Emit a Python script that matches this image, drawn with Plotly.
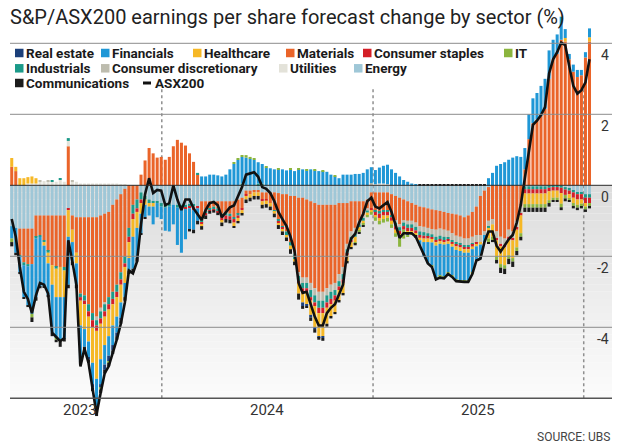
import plotly.graph_objects as go
import pandas as pd

# ---------------- data (weekly, % change in EPS forecast, contribution by sector) ----------------
dates = pd.date_range("2023-04-16", periods=144, freq="7D")

real_estate = [
    0, 0, 0, 0, 0, 0, 0, 0, 0, 0,
    0, 0, 0, 0, 0, 0, 0, 0, 0, -0.05,
    -0.1, -0.1, -0.1, -0.15, -0.15, -0.15, -0.1, -0.05, 0, 0,
    0, 0, 0, 0, 0, 0, 0, 0, 0, 0,
    0, 0, 0, 0, 0, 0, 0, 0, 0, 0,
    0, 0, 0, 0, 0, 0, 0, 0, 0, 0,
    0, 0, 0, 0, 0, 0, 0, 0, 0, 0,
    0, 0, -0.1, -0.05, -0.07, -0.05, -0.05, -0.05, 0, 0,
    0, 0, 0, 0, 0, 0, 0, 0, 0, 0,
    0, 0, 0, 0, 0, 0, 0, 0, -0.05, 0,
    0, 0, 0, 0, 0, 0, 0, 0, 0, 0,
    0, 0, 0, 0, 0, 0, 0, 0, 0, 0,
    0, 0, 0, 0, 0, 0, 0, 0, 0, 0,
    0, 0, 0, 0, 0, 0, 0, 0, 0, 0,
    0, 0, 0, 0]

financials = [
    -0.35, -0.7, -0.45, -0.9, -1.1, -1.4, -1.65, -1.4, -1.15, -0.9,
    -1.35, -1.15, -1.2, -1.15, -1.35, -0.55, -0.6, -1.0, -0.5, -0.45,
    -0.6, -0.8, -0.7, -0.55, -0.55, -0.55, -0.45, -0.45, -0.4, -0.35,
    -0.9, -0.85, -0.55, -0.35, -0.25, -0.5, -0.4, -0.35, -0.65, -0.7,
    -0.55, -1.05, -1.25, -0.85, -0.6, -0.55, -0.35, 0.25, 0.25, 0.3,
    0.3, 0.28, 0.25, 0.3, 0.45, 0.6, 0.72, 0.75, 0.78, 0.75,
    0.72, 0.6, 0.55, 0.5, 0.48, 0.45, 0.45, 0.45, 0.42, 0.45,
    0.4, 0.45, 0.45, 0.42, 0.45, 0.42, 0.4, 0.4, 0.38, 0.3,
    0.25, 0.2, 0.3, 0.3, 0.3, 0.32, 0.32, 0.35, 0.45, 0.45,
    0.4, 0.45, 0.5, 0.55, 0.45, 0.35, 0.25, 0.15, 0.1, 0.05,
    0.03, -0.15, -0.4, -0.6, -0.65, -0.9, -0.9, -0.9, -0.8, -0.8,
    -0.83, -0.82, -0.77, -0.77, -0.65, -0.4, -0.4, -0.2, 0.2, 0.35,
    0.55, 0.6, 0.65, 0.72, 0.78, 0.82, 0.8, 0.6, 0.7, 0.7,
    0.75, 0.85, 0.85, 0.8, 0.55, 0.55, 0.65, 0.25, 0.15, 0.2,
    0.2, 0.15, 0.15, 0.25]

healthcare = [
    0.25, 0.12, 0.2, 0.2, 0.18, 0.2, 0.15, 0, -0.1, -0.3,
    -0.55, -0.8, -0.85, -0.75, -0.75, -0.35, -0.3, -0.7, -0.7, -0.7,
    -1.0, -1.35, -1.0, -0.8, -0.75, -0.6, -0.55, -0.5, -0.45, -0.45,
    -0.5, -0.45, -0.3, -0.15, -0.1, -0.1, 0, 0, 0, 0,
    0, 0, 0, 0, 0, 0, 0, -0.05, 0, 0,
    0, 0, -0.05, 0, 0, -0.1, -0.1, -0.1, -0.1, -0.1,
    -0.1, -0.1, -0.1, -0.1, -0.1, -0.05, -0.05, -0.05, -0.07, -0.1,
    -0.05, -0.3, -0.3, -0.35, -0.4, -0.6, -0.65, -0.65, -0.45, -0.35,
    -0.33, -0.3, -0.3, -0.18, -0.15, -0.15, -0.1, -0.08, -0.08, -0.05,
    -0.05, -0.08, -0.1, -0.07, -0.1, -0.1, -0.1, 0, -0.05, -0.05,
    -0.05, -0.07, -0.1, -0.1, -0.1, -0.1, -0.08, -0.07, -0.07, -0.08,
    -0.1, -0.1, -0.1, -0.1, -0.07, -0.05, -0.05, 0, -0.3, -0.35,
    -0.45, -0.5, -0.5, -0.45, -0.5, -0.5, -0.5, -0.3, -0.3, -0.3,
    -0.3, -0.3, -0.3, -0.25, -0.2, -0.2, -0.3, 0.1, -0.12, -0.15,
    -0.15, -0.12, -0.1, 0.12]

materials = [
    0.52, 0.4, -0.75, -0.95, -1.0, -1.0, -0.6, -0.55, -0.7, -1.0,
    -1.4, -1.45, -1.45, -1.45, 1.1, -0.4, -1.0, -2.15, -2.2, -2.45,
    -2.7, -2.8, -2.6, -2.5, -2.4, -2.45, -2.4, -2.2, -1.9, -1.2,
    -0.55, -0.4, 0.3, 0.7, 1.05, 0.9, 0.78, 0.8, 0.72, 0.8,
    1.1, 1.28, 1.2, 1.12, 0.9, 0.66, 0.3, -0.55, -0.3, -0.2,
    -0.15, -0.2, -0.35, -0.3, -0.35, -0.45, -0.4, -0.3, -0.1, -0.1,
    -0.05, -0.05, -0.2, -0.2, -0.3, -0.5, -0.75, -0.9, -1.05, -1.3,
    -1.6, -2.1, -2.25, -2.2, -2.3, -2.4, -2.45, -2.45, -2.35, -2.25,
    -2.2, -2.0, -1.8, -1.15, -0.85, -0.75, -0.55, -0.4, -0.25, -0.45,
    -0.5, -0.55, -0.5, -0.5, -0.6, -0.7, -0.75, -0.6, -0.55, -0.5,
    -0.5, -0.55, -0.55, -0.55, -0.55, -0.55, -0.5, -0.5, -0.5, -0.55,
    -0.6, -0.6, -0.6, -0.65, -0.7, -0.8, -1.1, -1.15, -0.95, -0.95,
    -1.3, -1.45, -1.5, -1.25, -1.3, -1.0, -0.6, 0.45, 1.3, 1.75,
    1.85, 1.95, 2.15, 3.0, 3.55, 3.7, 4.1, 4.05, 3.55, 3.2,
    3.05, 3.1, 3.6, 4.05]

consumer_staples = [
    0, 0, 0, 0, 0, 0, 0, 0, 0, 0,
    0, 0, 0, 0, -0.05, 0, 0, -0.1, -0.1, -0.15,
    -0.2, -0.15, -0.15, -0.15, -0.15, -0.15, -0.15, -0.15, -0.1, -0.15,
    -0.15, -0.1, -0.1, 0, 0, 0, 0, 0, 0, 0,
    0, 0, 0, -0.05, -0.05, -0.1, -0.05, -0.05, -0.05, -0.02,
    -0.02, -0.02, -0.1, -0.1, -0.1, -0.1, -0.07, -0.05, -0.05, 0,
    0, 0, -0.05, -0.03, 0, 0, -0.05, -0.05, 0, 0,
    0, -0.05, -0.1, -0.1, -0.1, -0.1, -0.15, -0.15, -0.15, -0.15,
    -0.15, -0.1, -0.1, -0.05, -0.05, 0, 0, 0, 0, -0.05,
    -0.1, -0.12, -0.1, -0.1, -0.1, -0.1, -0.1, -0.1, -0.1, -0.1,
    -0.08, -0.08, -0.08, -0.05, -0.05, -0.05, -0.05, -0.05, -0.05, -0.05,
    -0.05, -0.05, -0.05, -0.05, -0.05, -0.05, -0.02, 0, 0, 0,
    -0.05, -0.07, -0.05, -0.07, -0.05, -0.05, -0.05, -0.12, -0.12, -0.12,
    -0.12, -0.12, -0.12, -0.1, -0.1, -0.1, -0.15, -0.15, -0.1, -0.15,
    -0.15, -0.15, -0.15, -0.15]

it = [
    -0.1, 0, 0, 0, 0, -0.1, 0, 0, 0, 0,
    0, -0.05, -0.05, 0, 0, 0, 0, 0, 0, 0,
    0, 0, -0.05, 0, -0.05, 0, 0, 0, 0, 0,
    0, 0, 0, 0, 0, 0, 0, 0, 0, 0,
    0, 0, 0, 0, 0, 0, 0, 0, 0, 0,
    0, 0, 0, 0, 0, 0.03, 0.05, 0.05, 0.07, 0.05,
    0.05, 0, 0, 0.03, 0, 0, 0.03, 0, 0, 0.03,
    0, 0.02, 0, 0.03, 0, 0.03, 0, 0.03, 0, 0,
    0.03, 0, 0, 0, 0, -0.04, -0.05, -0.05, -0.05, -0.08,
    -0.1, -0.1, -0.1, -0.1, -0.1, -0.1, -0.25, -0.25, -0.05, -0.05,
    0, 0, 0, 0, -0.04, -0.05, -0.05, -0.05, -0.05, -0.05,
    -0.05, -0.05, -0.05, -0.05, -0.05, 0, 0, 0, -0.1, -0.1,
    -0.1, -0.1, -0.1, -0.1, -0.1, -0.1, -0.1, -0.1, -0.1, -0.1,
    -0.1, -0.1, -0.1, -0.08, -0.07, -0.07, -0.1, -0.1, -0.05, -0.08,
    -0.08, -0.08, -0.08, -0.08]

industrials = [
    0, 0, -0.03, -0.08, -0.06, 0, -0.05, -0.05, -0.05, -0.05,
    0.03, -0.05, 0.05, -0.1, 0.08, 0, 0, -0.1, -0.15, -0.2,
    -0.2, -0.15, -0.2, -0.2, -0.2, -0.2, -0.2, -0.2, -0.2, -0.25,
    -0.25, -0.25, -0.2, -0.1, -0.1, -0.05, -0.05, -0.1, -0.08, -0.05,
    0, -0.08, -0.1, -0.07, -0.05, -0.05, 0.05, -0.05, -0.05, -0.05,
    -0.08, -0.1, -0.1, -0.1, -0.07, -0.05, -0.05, 0.05, 0, 0,
    0, 0.05, 0.05, 0, 0, -0.05, -0.05, -0.05, -0.1, -0.1,
    -0.15, -0.15, -0.15, -0.15, -0.2, -0.2, -0.2, -0.2, -0.2, -0.2,
    -0.15, -0.15, -0.15, -0.12, -0.1, -0.1, -0.08, -0.08, -0.06, 0,
    -0.05, -0.05, -0.05, -0.05, -0.05, -0.1, -0.1, -0.1, -0.1, -0.1,
    -0.1, -0.1, -0.1, -0.1, -0.08, -0.1, -0.1, -0.1, -0.05, -0.05,
    -0.05, -0.05, -0.05, -0.05, -0.03, -0.02, 0, 0, -0.05, 0,
    0, 0, 0, 0, 0, 0, 0, -0.08, -0.08, -0.08,
    -0.08, -0.08, -0.08, -0.07, -0.05, -0.05, -0.07, -0.07, -0.05, -0.05,
    -0.05, -0.05, -0.1, -0.1]

consumer_discretionary = [
    0, 0, 0, 0, 0, 0, 0, 0.05, 0, 0.03,
    0, 0, 0, 0, 0, 0.05, 0, 0, 0, 0,
    0, -0.1, -0.1, -0.05, 0, 0, 0, 0, 0, 0,
    0, 0, 0, 0, 0, 0, 0, 0, 0, 0,
    0, 0, 0, 0, 0, 0, 0, 0, 0, 0,
    0, 0, 0, 0, 0, 0, 0, 0, 0, 0,
    0, 0, 0, 0, 0, 0, 0, 0, 0, 0,
    -0.05, -0.1, -0.15, -0.15, -0.2, -0.2, -0.25, -0.25, -0.2, -0.2,
    -0.2, -0.2, -0.2, -0.15, -0.15, -0.15, -0.1, -0.07, -0.06, 0.03,
    0, 0, 0, 0, 0, -0.05, -0.08, -0.05, -0.1, -0.1,
    -0.12, -0.15, -0.15, -0.15, -0.15, -0.2, -0.2, -0.2, -0.2, -0.2,
    -0.2, -0.2, -0.2, -0.2, -0.2, -0.2, -0.2, -0.1, -0.15, -0.15,
    -0.2, -0.2, -0.2, -0.2, -0.2, -0.2, -0.2, 0, 0, 0,
    0, 0, 0, 0, 0, 0, 0, 0, 0, 0,
    0, 0, 0, 0]

utilities = [
    0, 0, 0, 0, 0.05, 0.05, 0.05, 0.1, 0.12, 0.12,
    0.1, 0.1, 0.15, 0.1, 0.15, 0.1, 0.1, 0.05, 0.05, 0.05,
    0.05, 0.05, 0.05, 0.05, 0.05, 0.05, 0.05, 0.03, 0.03, 0,
    0, 0, 0, 0, 0, 0, 0, 0, 0, 0,
    0, 0, 0, 0, 0, 0, 0, 0, 0, 0,
    0, 0, 0, 0, 0, 0, 0, 0, 0, 0,
    0, 0, 0, 0, 0, 0, 0, 0, 0, 0,
    0, 0, 0, 0, 0, 0, 0, 0, 0, 0,
    0, 0, 0, 0, 0, 0, 0, 0, 0, 0.03,
    0.03, 0.05, 0.05, 0.03, 0, 0, 0, 0, 0, 0,
    0, 0, 0, 0, 0, 0, 0, 0, 0, 0,
    0, 0, 0, 0, 0, 0, 0, 0, 0, 0,
    0, 0, 0, 0, 0, 0, 0, 0, 0, 0,
    0, 0, 0, 0, 0, 0, 0, 0, 0, 0,
    0, 0, 0, 0]

energy = [
    -1.15, -1.2, -1.22, -1.22, -1.22, -1.22, -0.85, -0.85, -0.85, -0.85,
    -0.85, -0.85, -0.85, -0.85, -0.65, -0.85, -0.9, -0.9, -0.9, -0.9,
    -0.9, -0.9, -0.85, -0.8, -0.75, -0.55, -0.4, -0.25, -0.1, 0,
    0, 0, -0.2, -0.3, -0.4, -0.45, -0.45, -0.5, -0.55, -0.55,
    -0.55, -0.55, -0.55, -0.55, -0.55, -0.55, -0.6, -0.45, -0.45, -0.45,
    -0.45, -0.45, -0.45, -0.45, -0.45, -0.45, -0.4, -0.35, -0.15, -0.15,
    -0.15, -0.15, -0.2, -0.2, -0.2, -0.2, -0.22, -0.25, -0.25, -0.3,
    -0.3, -0.35, -0.35, -0.4, -0.45, -0.5, -0.55, -0.55, -0.55, -0.55,
    -0.55, -0.5, -0.5, -0.5, -0.45, -0.45, -0.45, -0.45, -0.4, -0.2,
    -0.2, -0.2, -0.2, -0.2, -0.25, -0.3, -0.35, -0.4, -0.45, -0.5,
    -0.55, -0.6, -0.62, -0.65, -0.68, -0.7, -0.72, -0.75, -0.78, -0.8,
    -0.82, -0.85, -0.9, -0.85, -0.75, -0.6, -0.3, -0.15, -0.05, 0,
    0, 0, 0, 0, 0, 0, 0, -0.03, -0.03, -0.03,
    -0.03, -0.03, -0.03, 0, 0, 0, 0, -0.05, -0.1, -0.15,
    -0.2, -0.2, -0.25, -0.25]

communications = [
    -0.12, -0.07, -0.05, -0.05, -0.05, -0.13, -0.1, -0.05, -0.02, -0.05,
    -0.1, -0.07, -0.15, -0.1, -0.1, -0.1, -0.1, -0.1, -0.1, -0.1,
    -0.1, -0.15, -0.1, -0.1, -0.1, -0.1, -0.1, -0.1, -0.1, -0.1,
    -0.1, -0.1, -0.05, -0.05, 0, 0, 0, 0, 0, 0,
    0, 0, 0, 0, -0.05, -0.1, -0.1, -0.1, -0.1, -0.08,
    -0.07, -0.07, -0.1, -0.1, -0.1, -0.05, -0.05, -0.05, -0.1, -0.1,
    -0.1, -0.1, -0.1, -0.1, -0.1, -0.1, -0.11, -0.1, -0.1, -0.13,
    -0.1, -0.17, -0.08, -0.05, -0.1, -0.1, -0.05, -0.08, -0.08, -0.05,
    -0.05, -0.05, -0.05, -0.05, -0.05, -0.05, -0.04, -0.02, 0, 0,
    0, 0, 0, 0, 0, 0, 0, 0, 0, 0,
    -0.08, 0.03, 0.03, 0.03, 0.03, 0.03, 0.03, 0.03, 0.03, 0.03,
    0.03, 0.03, 0.03, 0.03, 0.03, 0.03, 0.03, 0.03, -0.05, -0.05,
    -0.1, -0.15, -0.15, -0.15, -0.15, -0.12, -0.1, -0.12, -0.12, -0.12,
    -0.12, -0.12, -0.12, -0.1, -0.05, -0.05, -0.08, -0.08, -0.03, -0.07,
    -0.07, -0.05, -0.07, -0.07]

asx200 = [
    -0.95, -1.45, -2.3, -3.0, -3.2, -3.6, -3.1, -2.75, -2.8, -3.05,
    -4.15, -4.27, -4.39, -4.3, -1.55, -2.15, -2.8, -5.1, -4.6, -5.0,
    -5.8, -6.45, -5.85, -5.3, -5.1, -4.75, -4.35, -3.9, -3.3, -2.4,
    -2.48, -2.15, -1.1, -0.25, 0.2, -0.22, -0.13, -0.15, -0.56, -0.5,
    0.0, -0.4, -0.7, -0.4, -0.4, -0.65, -0.8, -0.98, -0.7, -0.5,
    -0.47, -0.56, -0.9, -0.75, -0.62, -0.57, -0.3, -0.05, 0.3, 0.33,
    0.37, 0.24, -0.05, -0.1, -0.22, -0.45, -0.75, -0.95, -1.15, -1.45,
    -1.85, -2.75, -3.03, -3.0, -3.37, -3.7, -3.95, -3.95, -3.6, -3.45,
    -3.35, -3.1, -2.8, -1.9, -1.5, -1.37, -1.05, -0.8, -0.45, -0.35,
    -0.6, -0.65, -0.55, -0.47, -0.75, -1.1, -1.48, -1.35, -1.35, -1.35,
    -1.45, -1.7, -2.0, -2.2, -2.3, -2.65, -2.6, -2.62, -2.5, -2.58,
    -2.7, -2.72, -2.72, -2.72, -2.5, -2.12, -2.07, -1.6, -1.3, -1.3,
    -1.7, -1.87, -1.7, -1.52, -1.4, -1.05, -0.55, 0.2, 1.05, 1.7,
    1.82, 1.98, 2.2, 3.15, 3.55, 3.75, 4.02, 3.95, 3.35, 2.8,
    2.58, 2.68, 2.9, 3.55]

y_ticks = [4, 2, 0, -2, -4]
year_labels = ["2023", "2024", "2025"]
year_label_dates = ["2023-08-12", "2024-07-02", "2025-07-01"]
year_boundaries = ["2024-01-01", "2025-01-01", "2026-01-01"]

# ---------------- styling ----------------
W, H = 620, 448
ML, MR, MT, MB = 10, 8, 0, 25
PW, PH = W - ML - MR, H - MT - MB
PX_PER_UNIT = 35.5
ZERO_PY = 185.3
Y_TOP = ZERO_PY / PX_PER_UNIT
Y_BOT = Y_TOP - PH / PX_PER_UNIT


def pxx(x):
    return (x - ML) / PW


def pxy(y):
    return 1 - (y - MT) / PH


colors = {
    "Real estate": "#1b3f7a",
    "Financials": "#1f97d6",
    "Healthcare": "#f6b826",
    "Materials": "#ea6429",
    "Consumer staples": "#d41f27",
    "IT": "#8bb53e",
    "Industrials": "#1b9a89",
    "Consumer discretionary": "#bdbcae",
    "Utilities": "#e3e2d9",
    "Energy": "#9fc7d7",
    "Communications": "#1c1c1c",
}

series = {
    "Real estate": real_estate,
    "Financials": financials,
    "Healthcare": healthcare,
    "Materials": materials,
    "Consumer staples": consumer_staples,
    "IT": it,
    "Industrials": industrials,
    "Consumer discretionary": consumer_discretionary,
    "Utilities": utilities,
    "Energy": energy,
    "Communications": communications,
}
for k, v in series.items():
    assert len(v) == len(dates), (k, len(v))
assert len(asx200) == len(dates)

stack_order = ["Energy", "Materials", "Utilities", "Consumer discretionary", "Industrials",
               "Consumer staples", "Healthcare", "Financials", "Real estate", "IT", "Communications"]

fig = go.Figure()
for name in stack_order:
    fig.add_trace(go.Bar(x=dates, y=series[name], name=name,
                         marker=dict(color=colors[name], line=dict(width=0)),
                         showlegend=False))
fig.add_trace(go.Scatter(x=dates, y=asx200, name="ASX200", mode="lines",
                         line=dict(color="#111111", width=2.6), showlegend=False))

shapes = []
# gradient background below zero
n_strips = 30
for k in range(n_strips):
    y0 = -6 * k / n_strips
    y1 = -6 * (k + 1) / n_strips
    g = int(round(221 + (251 - 221) * k / (n_strips - 1)))
    shapes.append(dict(type="rect", xref="paper", yref="y", x0=0, x1=1, y0=y0, y1=y1,
                       fillcolor=f"rgb({g},{g},{g})", line=dict(width=0), layer="below"))
# dotted year boundaries
for d in year_boundaries:
    shapes.append(dict(type="line", xref="x", yref="y", x0=d, x1=d, y0=-6, y1=2.75,
                       line=dict(color="#8f8f8f", width=1.5, dash="dot"), layer="below"))
# grid lines
for t in [4, 2, -2, -4]:
    shapes.append(dict(type="line", xref="paper", yref="y", x0=0, x1=1, y0=t, y1=t,
                       line=dict(color="#8c8c8c", width=1), layer="above"))
shapes.append(dict(type="line", xref="paper", yref="y", x0=0, x1=1, y0=0, y1=0,
                   line=dict(color="#2a2a2a", width=1), layer="above"))
shapes.append(dict(type="line", xref="paper", yref="y", x0=0, x1=1, y0=-6, y1=-6,
                   line=dict(color="#555555", width=1.5), layer="above"))

annotations = []
FONT = "Roboto, Liberation Sans, Arial, sans-serif"
# title
annotations.append(dict(text="S&P/ASX200 earnings per share forecast change by sector (%)",
                        xref="paper", yref="paper", x=pxx(8), y=pxy(17),
                        xanchor="left", yanchor="middle", showarrow=False,
                        font=dict(family=FONT, size=20, color="#222222")))

# custom legend
legend_rows = [
    (53.0, [("Real estate", 15), ("Financials", 101), ("Healthcare", 193), ("Materials", 286),
            ("Consumer staples", 363), ("IT", 504)]),
    (68.3, [("Industrials", 15), ("Consumer discretionary", 101), ("Utilities", 279), ("Energy", 354)]),
    (83.0, [("Communications", 15)]),
]
SQ = 8.5
LEG_FONT = dict(family=FONT, size=13.5, color="#1a1a1a", weight=700)
for row_y, items in legend_rows:
    for name, sx in items:
        shapes.append(dict(type="rect", xref="paper", yref="paper",
                           x0=pxx(sx), x1=pxx(sx + SQ), y0=pxy(row_y + SQ / 2), y1=pxy(row_y - SQ / 2),
                           fillcolor=colors[name], line=dict(width=0), layer="above"))
        annotations.append(dict(text=name, xref="paper", yref="paper", x=pxx(sx + SQ + 0.5), y=pxy(row_y),
                                xanchor="left", yanchor="middle", showarrow=False, font=LEG_FONT))
# ASX200 legend entry (line)
shapes.append(dict(type="line", xref="paper", yref="paper", x0=pxx(143), x1=pxx(151),
                   y0=pxy(83), y1=pxy(83), line=dict(color="#111111", width=3), layer="above"))
annotations.append(dict(text="ASX200", xref="paper", yref="paper", x=pxx(152.5), y=pxy(83),
                        xanchor="left", yanchor="middle", showarrow=False, font=LEG_FONT))

# y tick labels (right, below each grid line)
for t in y_ticks:
    annotations.append(dict(text=str(t), xref="paper", yref="y", x=pxx(611), y=t,
                            xanchor="right", yanchor="top", yshift=-2, showarrow=False,
                            font=dict(family=FONT, size=14, color="#333333")))
# year labels
for lab, d in zip(year_labels, year_label_dates):
    annotations.append(dict(text=lab, xref="x", yref="paper", x=d, y=pxy(410),
                            xanchor="center", yanchor="middle", showarrow=False,
                            font=dict(family=FONT, size=15, color="#333333")))
# source
annotations.append(dict(text="SOURCE: UBS", xref="paper", yref="paper", x=pxx(612), y=pxy(437),
                        xanchor="right", yanchor="middle", showarrow=False,
                        font=dict(family=FONT, size=12, color="#444444")))

fig.update_layout(
    width=W, height=H,
    margin=dict(l=ML, r=MR, t=MT, b=MB, pad=0),
    paper_bgcolor="white", plot_bgcolor="white",
    barmode="relative", bargap=0.25,
    showlegend=False,
    xaxis=dict(type="date", range=["2023-04-13", "2026-02-19"], visible=False, fixedrange=True),
    yaxis=dict(range=[Y_BOT, Y_TOP], visible=False, fixedrange=True),
    shapes=shapes, annotations=annotations,
)

fig.write_html("out.html")
